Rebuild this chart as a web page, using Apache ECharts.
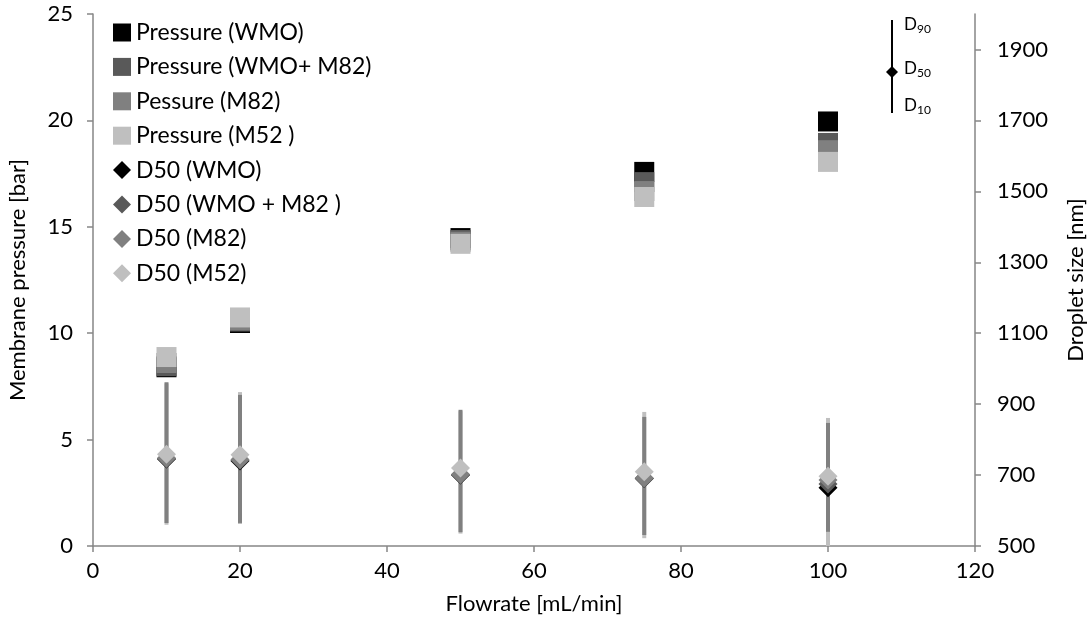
<!DOCTYPE html>
<html>
<head>
<meta charset="utf-8">
<script src="https://cdn.jsdelivr.net/npm/echarts@6/dist/echarts.min.js"></script>
<style>
  html, body { margin: 0; padding: 0; background: #fff; }
  #chart { width: 1091px; height: 621px; }
</style>
</head>
<body>
<div id="chart"></div>
<script>
var flowrate = [10, 20, 50, 75, 100];

// membrane pressure [bar]
var pWMO = [8.4, 10.48, 14.47, 17.58, 19.95];
var pWMOM82 = [8.45, 10.55, 14.38, 17.1, 18.94];
var pM82 = [8.6, 10.6, 14.3, 16.68, 18.6];
var pM52 = [8.88, 10.74, 14.2, 16.4, 18.05];

// droplet size D50 [nm]
var dWMO = [745, 740, 700, 690, 664];
var dWMOM82 = [745, 742, 700, 690, 675];
var dM82 = [748, 744, 702, 692, 686];
var dM52 = [759, 757, 720, 709, 697];

// D10 / D90 ranges [nm]
var d10M82 = [565, 565, 539, 531, 540];
var d90M82 = [962, 926, 884, 864, 847];
var d10M52 = [560, 562, 535, 522, 500];
var d90M52 = [958, 934, 880, 878, 861];

var font = 'Lato';
var cBlack = '#000000', cDark = '#595959', cMid = '#808080', cLight = '#bfbfbf';

function pairs(xs, ys) {
  return xs.map(function (x, i) { return [x, ys[i]]; });
}
function ranges(xs, lo, hi) {
  return xs.map(function (x, i) { return [x, lo[i], hi[i]]; });
}

function errorBars(name, data, color, z) {
  return {
    name: name,
    type: 'custom',
    yAxisIndex: 1,
    z: z,
    silent: true,
    data: data,
    renderItem: function (params, api) {
      var top = api.coord([api.value(0), api.value(2)]);
      var bot = api.coord([api.value(0), api.value(1)]);
      return {
        type: 'line',
        shape: { x1: top[0], y1: top[1], x2: bot[0], y2: bot[1] },
        style: { stroke: color, lineWidth: 4 }
      };
    }
  };
}

function squares(name, data, color, z) {
  return {
    name: name, type: 'scatter', data: pairs(flowrate, data),
    symbol: 'rect', symbolSize: 20, z: z,
    itemStyle: { color: color, opacity: 1 }
  };
}
function diamonds(name, data, color, z) {
  return {
    name: name, type: 'scatter', yAxisIndex: 1, data: pairs(flowrate, data),
    symbol: 'diamond', symbolSize: 19, z: z,
    itemStyle: { color: color, opacity: 1 }
  };
}

var dom = document.getElementById('chart');
var myChart = echarts.init(dom, null, { renderer: 'canvas' });

var axisLine = { show: true, lineStyle: { color: '#868686', width: 1.5 } };
var axisTick = { show: true, length: 6, lineStyle: { color: '#868686', width: 1.5 } };
var labelStyle = { color: '#000', fontFamily: font, fontSize: 22 };

var option = {
  animation: false,
  backgroundColor: '#fff',
  grid: { left: 93, right: 116, top: 14, bottom: 75, outerBoundsMode: 'none' },
  legend: {
    orient: 'vertical',
    left: 108,
    top: 16,
    itemWidth: 18,
    itemHeight: 18,
    itemGap: 11.4,
    textStyle: { color: '#000', fontFamily: font, fontSize: 23 },
    data: [
      { name: 'Pressure (WMO)', icon: 'rect' },
      { name: 'Pressure (WMO+ M82)', icon: 'rect' },
      { name: 'Pessure (M82)', icon: 'rect' },
      { name: 'Pressure (M52 )', icon: 'rect' },
      { name: 'D50 (WMO)', icon: 'diamond' },
      { name: 'D50 (WMO + M82 )', icon: 'diamond' },
      { name: 'D50 (M82)', icon: 'diamond' },
      { name: 'D50 (M52)', icon: 'diamond' }
    ]
  },
  xAxis: {
    type: 'value', min: 0, max: 120, interval: 20,
    name: 'Flowrate [mL/min]', nameLocation: 'middle', nameGap: 47,
    nameTextStyle: labelStyle,
    axisLine: axisLine, axisTick: axisTick,
    axisLabel: Object.assign({ margin: 14 }, labelStyle),
    splitLine: { show: false }
  },
  yAxis: [
    {
      type: 'value', min: 0, max: 25, interval: 5,
      name: 'Membrane pressure [bar]', nameLocation: 'middle', nameGap: 64,
      nameTextStyle: labelStyle,
      axisLine: axisLine, axisTick: axisTick,
      axisLabel: Object.assign({ margin: 20 }, labelStyle),
      splitLine: { show: false }
    },
    {
      type: 'value', min: 500, max: 2000, interval: 200, position: 'right',
      name: 'Droplet size [nm]', nameLocation: 'middle', nameGap: 90,
      nameTextStyle: labelStyle,
      axisLine: axisLine, axisTick: axisTick,
      axisLabel: Object.assign({ margin: 22, showMaxLabel: false, formatter: function (v) { return String(v); } }, labelStyle),
      splitLine: { show: false }
    }
  ],
  graphic: [
    { type: 'line', shape: { x1: 892, y1: 20, x2: 892, y2: 113 }, style: { stroke: '#000', lineWidth: 2 } },
    { type: 'polygon', shape: { points: [[892, 66], [898, 72], [892, 78], [886, 72]] }, style: { fill: '#000' } },
    { type: 'text', left: 904, top: 16, style: { text: '{d|D}{s|90}', rich: { d: { fontFamily: font, fontSize: 17, fill: '#000' }, s: { fontFamily: font, fontSize: 12, fill: '#000', padding: [10, 0, 0, 0] } } } },
    { type: 'text', left: 904, top: 60, style: { text: '{d|D}{s|50}', rich: { d: { fontFamily: font, fontSize: 17, fill: '#000' }, s: { fontFamily: font, fontSize: 12, fill: '#000', padding: [10, 0, 0, 0] } } } },
    { type: 'text', left: 904, top: 97, style: { text: '{d|D}{s|10}', rich: { d: { fontFamily: font, fontSize: 17, fill: '#000' }, s: { fontFamily: font, fontSize: 12, fill: '#000', padding: [10, 0, 0, 0] } } } }
  ],
  series: [
    squares('Pressure (WMO)', pWMO, cBlack, 2),
    squares('Pressure (WMO+ M82)', pWMOM82, cDark, 2),
    squares('Pessure (M82)', pM82, cMid, 2),
    squares('Pressure (M52 )', pM52, cLight, 2),
    errorBars('D10-D90 (M52)', ranges(flowrate, d10M52, d90M52), cLight, 1),
    errorBars('D10-D90 (M82)', ranges(flowrate, d10M82, d90M82), cMid, 1),
    diamonds('D50 (WMO)', dWMO, cBlack, 3),
    diamonds('D50 (WMO + M82 )', dWMOM82, cDark, 3),
    diamonds('D50 (M82)', dM82, cMid, 3),
    diamonds('D50 (M52)', dM52, cLight, 3)
  ]
};

myChart.setOption(option);
window.addEventListener('resize', myChart.resize);
</script>
</body>
</html>
